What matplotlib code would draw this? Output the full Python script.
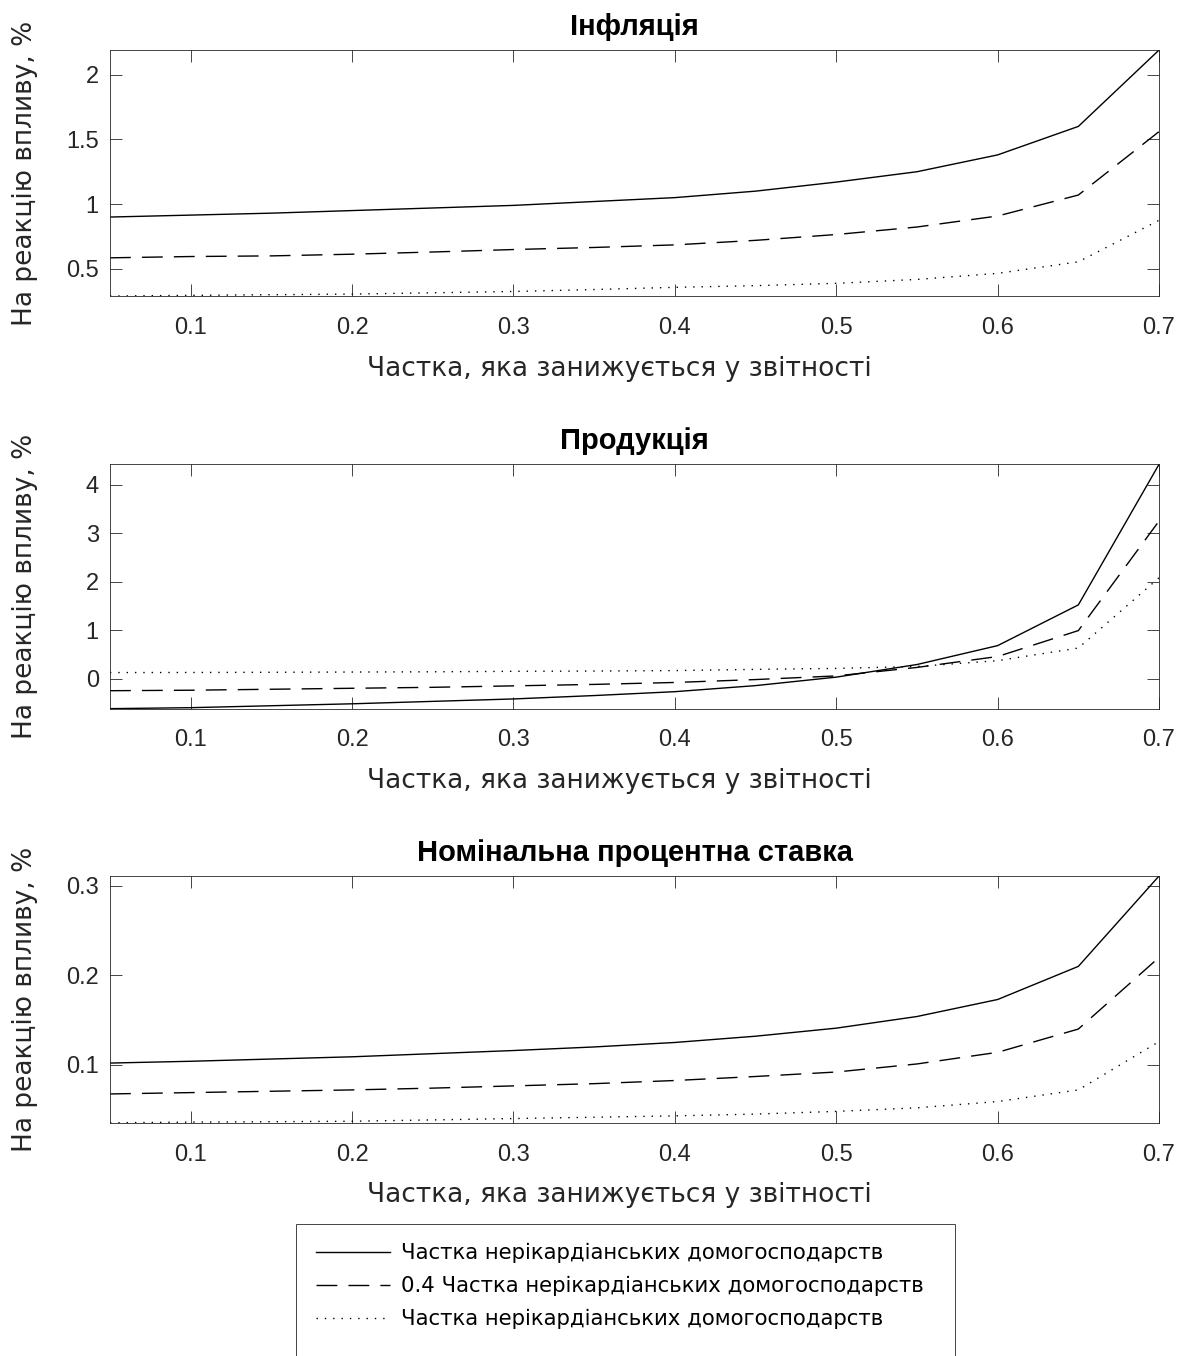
import matplotlib
matplotlib.use('Agg')
import matplotlib.pyplot as plt
from matplotlib.patches import Rectangle
import numpy as np

plt.rcParams['font.family'] = ['Liberation Sans', 'DejaVu Sans']

# share of under-reported income
share = [0.05, 0.10, 0.15, 0.20, 0.25, 0.30, 0.35, 0.40, 0.45, 0.50, 0.55, 0.60, 0.65, 0.70]

infl_full = [0.90, 0.915, 0.93, 0.95, 0.97, 0.99, 1.02, 1.05, 1.10, 1.17, 1.25, 1.38, 1.60, 2.19]
infl_04 = [0.585, 0.595, 0.60, 0.613, 0.63, 0.649, 0.665, 0.685, 0.72, 0.765, 0.823, 0.908, 1.07, 1.56]
infl_dot = [0.29, 0.295, 0.30, 0.305, 0.315, 0.325, 0.34, 0.357, 0.37, 0.388, 0.418, 0.465, 0.554, 0.875]

out_full = [-0.62, -0.60, -0.56, -0.52, -0.47, -0.42, -0.35, -0.27, -0.145, 0.03, 0.29, 0.68, 1.52, 4.42]
out_04 = [-0.25, -0.24, -0.22, -0.20, -0.18, -0.15, -0.12, -0.08, -0.02, 0.055, 0.23, 0.455, 0.99, 3.25]
out_dot = [0.124, 0.126, 0.13, 0.135, 0.14, 0.15, 0.155, 0.165, 0.19, 0.21, 0.25, 0.37, 0.63, 2.08]

rate_full = [0.102, 0.104, 0.1065, 0.109, 0.1125, 0.116, 0.12, 0.125, 0.132, 0.141, 0.154, 0.173, 0.21, 0.311]
rate_04 = [0.0675, 0.069, 0.0705, 0.072, 0.074, 0.0765, 0.079, 0.0825, 0.087, 0.092, 0.101, 0.114, 0.14, 0.22]
rate_dot = [0.0353, 0.036, 0.0365, 0.037, 0.0385, 0.040, 0.0415, 0.043, 0.045, 0.048, 0.052, 0.059, 0.072, 0.126]

titles = ['Інфляція', 'Продукція', 'Номінальна процентна ставка']
yticks = [[0.5, 1, 1.5, 2], [0, 1, 2, 3, 4], [0.1, 0.2, 0.3]]
yticklabels = [['0.5', '1', '1.5', '2'], ['0', '1', '2', '3', '4'], ['0.1', '0.2', '0.3']]
legend_labels = ['Частка нерікардіанських домогосподарств',
                 '0.4 Частка нерікардіанських домогосподарств',
                 'Частка нерікардіанських домогосподарств']

panels = [(infl_full, infl_04, infl_dot), (out_full, out_04, out_dot), (rate_full, rate_04, rate_dot)]

gray = '#262626'
label_font = ['DejaVu Sans']
fig = plt.figure(figsize=(11.85, 13.56), dpi=100)
positions = [[0.0928, 0.7817, 0.8853, 0.1814],
             [0.0928, 0.4774, 0.8853, 0.1802],
             [0.0928, 0.1720, 0.8853, 0.1820]]

styles = ['-', (0, (15, 8)), (0, (1, 5))]
handles = []
for i, (pos, series) in enumerate(zip(positions, panels)):
    ax = fig.add_axes(pos)
    hs = []
    for s, ls in zip(series, styles):
        h, = ax.plot(share, s, color='black', linestyle=ls, linewidth=1.0)
        hs.append(h)
    handles = hs
    allv = np.concatenate([np.array(s) for s in series])
    ax.set_xlim(0.05, 0.7)
    ax.set_ylim(allv.min(), allv.max())
    ax.set_xticks([0.1, 0.2, 0.3, 0.4, 0.5, 0.6, 0.7])
    ax.set_xticklabels(['0.1', '0.2', '0.3', '0.4', '0.5', '0.6', '0.7'])
    ax.set_yticks(yticks[i])
    ax.set_yticklabels(yticklabels[i])
    ax.tick_params(direction='in', length=8.5, width=0.6, color=gray, labelcolor=gray,
                   labelsize=17, top=True, right=True)
    ax.tick_params(axis='x', pad=15)
    ax.tick_params(axis='y', pad=8)
    for sp in ax.spines.values():
        sp.set_color(gray)
        sp.set_linewidth(0.6)
    ax.set_title(titles[i], fontsize=21, fontweight='bold', pad=11)
    ax.set_xlabel('Частка, яка занижується у звітності', fontsize=19, color=gray,
                  family=label_font)
    ax.xaxis.set_label_coords(0.486, -0.242)
    ax.set_ylabel('На реакцію впливу, %', fontsize=19, color=gray, family=label_font)
    ax.yaxis.set_label_coords(-0.069, 0.5)

leg = fig.legend(handles, legend_labels, loc='upper left', bbox_to_anchor=(0.2502, 0.0973),
                 borderaxespad=0, prop={'family': label_font, 'size': 15.3},
                 handlelength=3.5, handletextpad=0.5, labelspacing=0.6,
                 frameon=False, borderpad=0.9)
# legend frame runs past the bottom edge of the figure in the original
fig.add_artist(Rectangle((0.2502, -0.05), 0.556, 0.1473, transform=fig.transFigure,
                         fill=False, edgecolor=gray, linewidth=0.6))

fig.savefig('out.png', dpi=100)
